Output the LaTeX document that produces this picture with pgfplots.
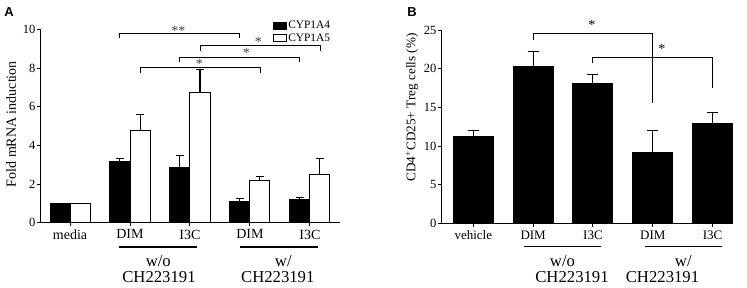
\documentclass[border=0pt]{standalone}
\usepackage{pgfplots}
\pgfplotsset{compat=1.18}
\usepackage{fontspec}
\setmainfont{Liberation Serif}
\newfontfamily\panelfont{Liberation Sans}
\begin{document}
\begin{tikzpicture}
\useasboundingbox (0,0) rectangle (747pt,287pt);
\pgfplotsset{
 myaxis/.style={
  scale only axis, anchor=south west,
  axis x line*=bottom, axis y line*=left,
  axis line style={-, line width=1pt},
  tick align=outside,
  major tick length=3.5pt,
  tick style={line width=1pt, black},
  ymin=0,
  xtick={0,...,4},
  clip=false,
  /pgf/number format/assume math mode=true,
  yticklabel style={font=\fontsize{12.5}{14}\selectfont, inner sep=1pt},
 }
}
% ---------------- Panel A ----------------
\begin{axis}[myaxis, at={(40pt,64.3pt)}, width=300pt, height=193.2pt,
  xmin=-0.5, xmax=4.5, ymax=10, ytick={0,2,...,10},
  ybar=0pt, bar width=20pt,
  xticklabels={media,DIM,I3C,DIM,I3C},
  xticklabel style={font=\fontsize{14}{16}\selectfont},
  ylabel={Fold mRNA induction},
  ylabel style={at={(axis description cs:-0.0967,0.51)}, anchor=center, font=\fontsize{14}{16}\selectfont},
  legend image code/.code={\draw[#1, line width=1pt] (0pt,-3.5pt) rectangle (13pt,3.5pt);},
  legend cell align=left,
  legend style={at={(axis description cs:0.777,1.049)}, anchor=north west, draw=none, fill=none,
    font=\fontsize{11.4}{12}\selectfont, inner sep=0pt, row sep=1.5pt, nodes={inner sep=1pt},
    /tikz/every even column/.append style={column sep=5pt}},
]
\addplot[fill=black, draw=black, line width=1pt,
  error bars/.cd, y dir=plus, y explicit, error mark=|,
  error mark options={mark size=3.75pt, line width=1pt, black},
  error bar style={line width=1pt, black}]
  table[x=x, y=y, y error=e] {
x y e
0 1.00 0.00
1 3.15 0.15
2 2.85 0.63
3 1.12 0.13
4 1.22 0.06
};
\addlegendentry{CYP1A4}
\addplot[fill=white, draw=black, line width=1pt,
  error bars/.cd, y dir=plus, y explicit, error mark=|,
  error mark options={mark size=3.75pt, line width=1pt, black},
  error bar style={line width=1pt, black}]
  table[x=x, y=y, y error=e] {
x y e
0 1.00 0.00
1 4.77 0.85
2 6.73 1.18
3 2.17 0.21
4 2.48 0.86
};
\addlegendentry{CYP1A5}
% significance brackets
\draw[line width=1pt] (axis cs:0.833,9.54) -- (axis cs:0.833,9.80) -- (axis cs:2.833,9.80) -- (axis cs:2.833,9.54);
\draw[line width=1pt] (axis cs:2.167,8.90) -- (axis cs:2.167,9.15) -- (axis cs:4.167,9.15) -- (axis cs:4.167,8.90);
\draw[line width=1pt] (axis cs:1.833,8.33) -- (axis cs:1.833,8.56) -- (axis cs:3.833,8.56) -- (axis cs:3.833,8.33);
\draw[line width=1pt] (axis cs:1.167,7.76) -- (axis cs:1.167,8.02) -- (axis cs:3.167,8.02) -- (axis cs:3.167,7.76);
\node[font=\fontsize{14}{16}\selectfont, text=black!75, inner sep=0pt] at (axis cs:1.805,9.95) {**};
\node[font=\fontsize{14}{16}\selectfont, text=black!75, inner sep=0pt] at (axis cs:3.14,9.35) {*};
\node[font=\fontsize{14}{16}\selectfont, text=black!75, inner sep=0pt] at (axis cs:2.94,8.78) {*};
\node[font=\fontsize{14}{16}\selectfont, text=black!75, inner sep=0pt] at (axis cs:2.155,8.21) {*};
\end{axis}
% ---------------- Panel B ----------------
\begin{axis}[myaxis, at={(441pt,63.5pt)}, width=292pt, height=193.5pt,
  xmin=-0.54, xmax=4.34, ymax=25, ytick={0,5,...,25},
  ybar=0pt, bar width=40pt,
  xticklabels={vehicle,DIM,I3C,DIM,I3C},
  xticklabel style={font=\fontsize{13}{15}\selectfont},
  ylabel={CD4\textsuperscript{+}CD25+ Treg cells (\%)},
  ylabel style={at={(axis description cs:-0.0993,0.6)}, anchor=center, font=\fontsize{13.2}{15}\selectfont},
]
\addplot[fill=black, draw=black, line width=1pt,
  error bars/.cd, y dir=plus, y explicit, error mark=|,
  error mark options={mark size=5.5pt, line width=1pt, black},
  error bar style={line width=1pt, black}]
  table[x=x, y=y, y error=e] {
x y e
0 11.25 0.78
1 20.27 1.89
2 18.13 1.11
3 9.19 2.84
4 12.89 1.50
};
\draw[line width=1pt] (axis cs:1,23.7) -- (axis cs:1,24.57) -- (axis cs:3,24.57) -- (axis cs:3,15.53);
\draw[line width=1pt] (axis cs:2,20.7) -- (axis cs:2,21.47) -- (axis cs:4,21.47) -- (axis cs:4,17.47);
\node[font=\fontsize{14}{16}\selectfont, inner sep=0pt] at (axis cs:1.98,25.7) {*};
\node[font=\fontsize{14}{16}\selectfont, inner sep=0pt] at (axis cs:3.15,22.6) {*};
\end{axis}
% group annotations (picture coordinates, pt = px)
\tikzset{grp/.style={font=\fontsize{16.7}{18}\selectfont, inner sep=0pt}}
\draw[line width=1.2pt] (119pt,40pt) -- (197pt,40pt);
\draw[line width=1.2pt] (240pt,40pt) -- (318pt,40pt);
\node[grp] at (158.3pt,25.5pt) {w/o};
\node[grp] at (159pt,10.3pt) {CH223191};
\node[grp] at (283.3pt,25.5pt) {w/};
\node[grp] at (277.8pt,10.3pt) {CH223191};
\draw[line width=1.2pt] (524pt,40.3pt) -- (600.7pt,40.3pt);
\draw[line width=1.2pt] (645pt,40.3pt) -- (721.7pt,40.3pt);
\node[grp] at (562.5pt,25.8pt) {w/o};
\node[grp] at (572pt,10.3pt) {CH223191};
\node[grp] at (683.3pt,25.8pt) {w/};
\node[grp] at (662.5pt,10.3pt) {CH223191};
% panel letters
\node[font=\panelfont\bfseries\fontsize{13}{15}\selectfont] at (9pt,275pt) {A};
\node[font=\panelfont\bfseries\fontsize{13}{15}\selectfont] at (412pt,274.5pt) {B};
\end{tikzpicture}
\end{document}
